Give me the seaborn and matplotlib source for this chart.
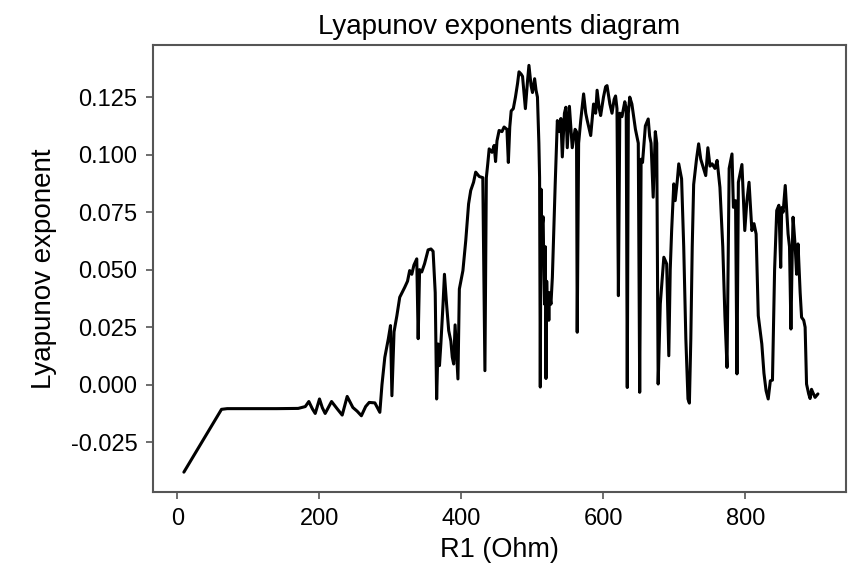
import seaborn as sns
import numpy as np
import pandas as pd
import matplotlib
matplotlib.use("Agg")
import matplotlib.pyplot as plt

# values
r1 = [9, 62, 70, 100, 140, 170, 180, 185, 190, 194, 200, 204, 208, 217, 225,
      232, 239, 247, 253, 259, 265, 270, 278, 285, 288, 292, 297, 300, 302, 305,
      309, 313, 320, 324, 327, 330, 333, 337, 339, 341, 344, 348, 353, 357, 360,
      363, 365, 367, 369, 371, 374, 376, 379, 382, 385, 387, 389, 391, 395, 397,
      402, 406, 410, 413, 417, 420, 425, 430, 433, 435, 437, 439, 443, 446, 448,
      450, 453, 457, 460, 464, 466, 468, 470, 473, 476, 479, 481, 484, 486, 490,
      493, 495, 498, 500, 503, 505, 507, 509, 510, 511, 512, 513, 514, 515, 516,
      517, 518, 519, 520, 521, 522, 523, 524, 526,
      528, 532, 535, 538, 540, 542, 545, 547, 549, 552, 556, 560, 562, 563, 565,
      568, 572, 575, 577, 582, 586, 589, 591, 594, 596, 600, 603, 605, 609, 612,
      615, 617, 619, 621, 623, 626, 630, 632, 633.5, 635, 637, 640, 645, 649, 651,
      653, 655, 659, 663, 665, 667, 670, 673, 675, 677, 680, 685, 689, 692, 694,
      696, 699, 701, 704, 706, 710, 713, 716, 719, 721, 723, 725, 727, 731, 734,
      737, 739, 744, 747, 750, 753, 757, 760, 764, 768, 771, 774, 777, 781, 783,
      786, 788, 790, 795, 799, 802, 805, 809, 812, 815, 818, 823, 826, 829, 832,
      835, 838, 841, 844, 847, 849.6, 851, 853, 856, 860, 862, 864, 866, 867, 870,
      872, 874, 877, 879, 882, 884, 886, 889, 891, 893, 895, 898, 902]

lyap = [-0.038, -0.0107, -0.0104, -0.0104, -0.0104, -0.0103, -0.0095, -0.0073,
        -0.0105, -0.0125, -0.0062, -0.0100, -0.0125, -0.0073, -0.0105, -0.0132,
        -0.0051, -0.0099, -0.0115, -0.0135, -0.0095, -0.0077, -0.0079, -0.012,
        0.000, 0.0119, 0.020, 0.0257, -0.0048, 0.023, 0.030, 0.038, 0.0423, 0.045,
        0.0496, 0.048, 0.052, 0.0547, 0.020, 0.050, 0.049, 0.0526, 0.0586, 0.059,
        0.058, 0.040, -0.0062, 0.0177, 0.0083, 0.018, 0.035, 0.048, 0.035, 0.0235,
        0.019, 0.012, 0.009, 0.026, 0.0025, 0.0416, 0.0496, 0.0626, 0.0786, 0.0844,
        0.088, 0.0924, 0.0905, 0.090, 0.0061, 0.090, 0.096, 0.1025, 0.101, 0.104,
        0.097, 0.106, 0.1105, 0.110, 0.112, 0.111, 0.0966, 0.112, 0.119, 0.120,
        0.125, 0.131, 0.136, 0.135, 0.134, 0.120, 0.132, 0.1388, 0.130, 0.127,
        0.133, 0.128, 0.125, 0.105, 0.090, -0.001, 0.085, 0.060, 0.070, 0.073,
        0.050, 0.035, 0.060, 0.0027, 0.045, 0.030, 0.040, 0.028, 0.040, 0.035,
        0.0467, 0.0873, 0.1148, 0.110, 0.1157, 0.099, 0.118, 0.1206, 0.103,
        0.121, 0.103, 0.111, 0.110, 0.0228, 0.105, 0.115, 0.1264, 0.118, 0.115,
        0.1083, 0.122, 0.118, 0.128, 0.120, 0.117, 0.125, 0.1295, 0.130, 0.122,
        0.118, 0.124, 0.1255, 0.120, 0.0387, 0.118, 0.1165, 0.123, 0.120, -0.0012,
        0.118, 0.125, 0.122, 0.111, 0.105, -0.0033, 0.098, 0.0966, 0.1125, 0.1155,
        0.108, 0.105, 0.0815, 0.110, 0.105, 0.0003, 0.0351, 0.0554, 0.0525, 0.0126,
        0.050, 0.067, 0.0873, 0.080, 0.0888, 0.096, 0.0895, 0.060, 0.020, -0.0062,
        -0.008, 0.020, 0.060, 0.087, 0.098, 0.1047, 0.098, 0.096, 0.0909, 0.103,
        0.095, 0.096, 0.094, 0.0975, 0.0858, 0.060, 0.030, 0.0075, 0.094, 0.1003,
        0.0771, 0.080, 0.0047, 0.088, 0.0957, 0.067, 0.080, 0.088, 0.067, 0.070,
        0.0655, 0.030, 0.0177, 0.005, -0.0026, -0.0062, 0.0017, 0.002, 0.050,
        0.0757, 0.078, 0.051, 0.077, 0.075, 0.0866, 0.0655, 0.060, 0.0242, 0.060,
        0.0728, 0.060, 0.048, 0.0612, 0.040, 0.0293, 0.028, 0.025, 0.0003, -0.004,
        -0.006, -0.002, -0.0035, -0.0055, -0.004]

x_ticks = [0, 200, 400, 600, 800]
y_ticks = [-0.025, 0.0, 0.025, 0.05, 0.075, 0.1, 0.125]

sns.set_style("ticks")
plt.rcParams["font.family"] = ["Liberation Sans", "DejaVu Sans"]
plt.rcParams["axes.unicode_minus"] = False
plt.rcParams["text.color"] = "black"
plt.rcParams["axes.labelcolor"] = "black"
plt.rcParams["xtick.color"] = "black"
plt.rcParams["ytick.color"] = "black"

df = pd.DataFrame({"R1": r1, "lyap": lyap})

fig = plt.figure(figsize=(8.48, 5.70), dpi=100)
ax = fig.add_axes([0.180, 0.136, 0.818, 0.785])

sns.lineplot(data=df, x="R1", y="lyap", ax=ax, color="black", linewidth=2.2)

ax.set_xlim(-35, 942)
ax.set_xticks(x_ticks)
ax.set_yticks(y_ticks)
ax.set_yticklabels([f"{v:.3f}" for v in y_ticks])

ax.set_title("Lyapunov exponents diagram", fontsize=20, pad=8, color="black")
ax.set_xlabel("R1 (Ohm)", fontsize=19.5, labelpad=5)
ax.set_ylabel("Lyapunov exponent", fontsize=20, labelpad=10)
ax.tick_params(axis="both", labelsize=17, length=5, width=1.2,
               direction="out", pad=6)
ax.tick_params(axis="both", color="#555555")

for s in ax.spines.values():
    s.set_color("#555555")
    s.set_linewidth(1.5)

fig.savefig("out.png", dpi=100)
